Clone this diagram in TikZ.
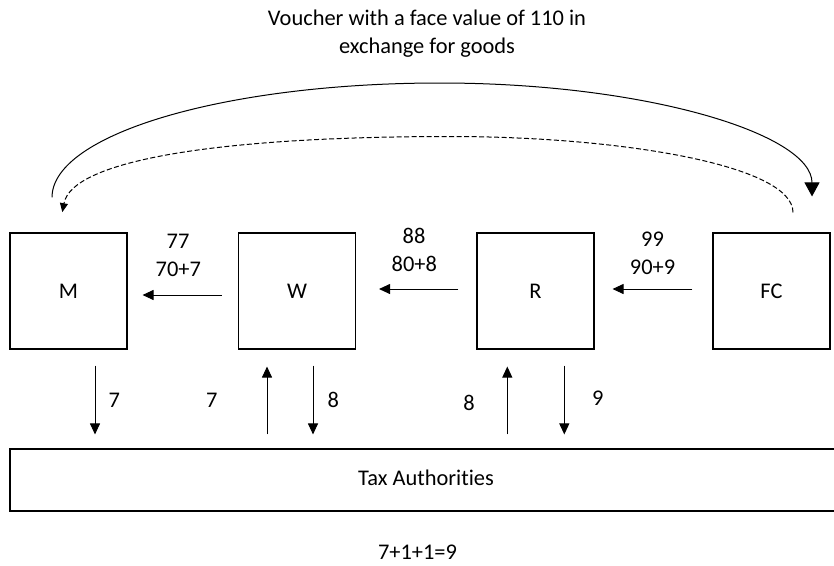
\documentclass[tikz,border=0pt]{standalone}
\usepackage{fontspec}
\setmainfont{Carlito}[Ligatures=NoCommon]
\usetikzlibrary{arrows.meta,calc}
\begin{document}
\begin{tikzpicture}[x=1pt,y=-1pt,
  font=\fontsize{22.4}{27.3}\selectfont,
  every node/.style={inner sep=0pt},
  box/.style={draw, line width=1.1pt, minimum width=117pt, minimum height=116pt},
  boxtext/.style={label={[anchor=base]center:#1}},
  flow/.style={line width=1pt, -{Triangle[length=11pt,width=10pt]}},
  voucher/.style={line width=1pt, -{Triangle[length=14pt,width=15pt]}},
  goods/.style={line width=1pt, dash pattern=on 5pt off 2.5pt, -{Triangle[length=9pt,width=8pt]}}
]
\clip (0,0) rectangle (834,565);

% heading
\node[anchor=base] (head1) at (427,25) {Voucher with a face value of 110 in};
\node[anchor=base] (head2) at (427,53.3) {exchange for goods};

% chain of traders
\node[box, boxtext=M]  (M)  at (68.5,291)  {};
\node[box, boxtext=W]  (W)  at (297,291)   {};
\node[box, boxtext=R]  (R)  at (535.5,291) {};
\node[box, boxtext=FC] (FC) at (771.5,291) {};

% tax authority strip
\node[draw, line width=1.1pt, minimum width=832pt, minimum height=62pt,
      label={[anchor=base, yshift=2pt]center:Tax Authorities}] (tax) at (426,480) {};

% payments along the chain
\draw[flow] ($(W.west)+(-16,4)$)   -- ($(M.east)+(15,4)$);
\draw[flow] ($(R.west)+(-18,-2)$)  -- ($(W.east)+(23,-2)$);
\draw[flow] ($(FC.west)+(-20,-2)$) -- ($(R.east)+(18,-2)$);

\node (p77) at (178,241.5) {77};
\node (s77) at (178.3,269)  {70+7};
\node (p88) at (414,236)   {88};
\node (s88) at (414.3,264)  {80+8};
\node (p99) at (652.5,239) {99};
\node (s99) at (652.5,267.5) {90+9};

% tax paid and refunded
\draw[flow] ($(M.south)+(26.5,16)$) -- ($(M.south |- tax.north)+(26.5,-14)$);
\draw[flow] ($(W.south |- tax.north)+(-30,-14)$) -- ($(W.south)+(-30,17)$);
\draw[flow] ($(W.south)+(16,16)$) -- ($(W.south |- tax.north)+(16,-14)$);
\draw[flow] ($(R.south |- tax.north)+(-28.2,-14)$) -- ($(R.south)+(-28.2,17)$);
\draw[flow] ($(R.south)+(28.8,16)$) -- ($(R.south |- tax.north)+(28.8,-14)$);

\node (t1) at (114.3,400) {7};
\node (t2) at (211.7,400) {7};
\node (t3) at (333.3,400) {8};
\node (t4) at (469,403.3) {8};
\node (t5) at (597.7,398.3) {9};

\node (total) at (417.5,552.5) {7+1+1=9};

% voucher and goods exchanged between M and FC
\coordinate (v0) at ($(M.north)+(-16.5,-35)$);
\coordinate (v1) at ($(FC.north)+(40.5,-36)$);
\draw[voucher] (v0) .. controls +(0,-63.5) and (226,83) .. (440,83)
                    .. controls (645.5,83) and +(0,-62.5) .. (v1);

\coordinate (g0) at ($(FC.north)+(21.5,-20)$);
\coordinate (g1) at ($(M.north)+(-6.2,-20.3)$);
\draw[goods] (g0) .. controls (793,165) and (620,136.5) .. (450,136.5)
                  .. controls (220,136.5) and (72,160) .. (g1);
\end{tikzpicture}
\end{document}
